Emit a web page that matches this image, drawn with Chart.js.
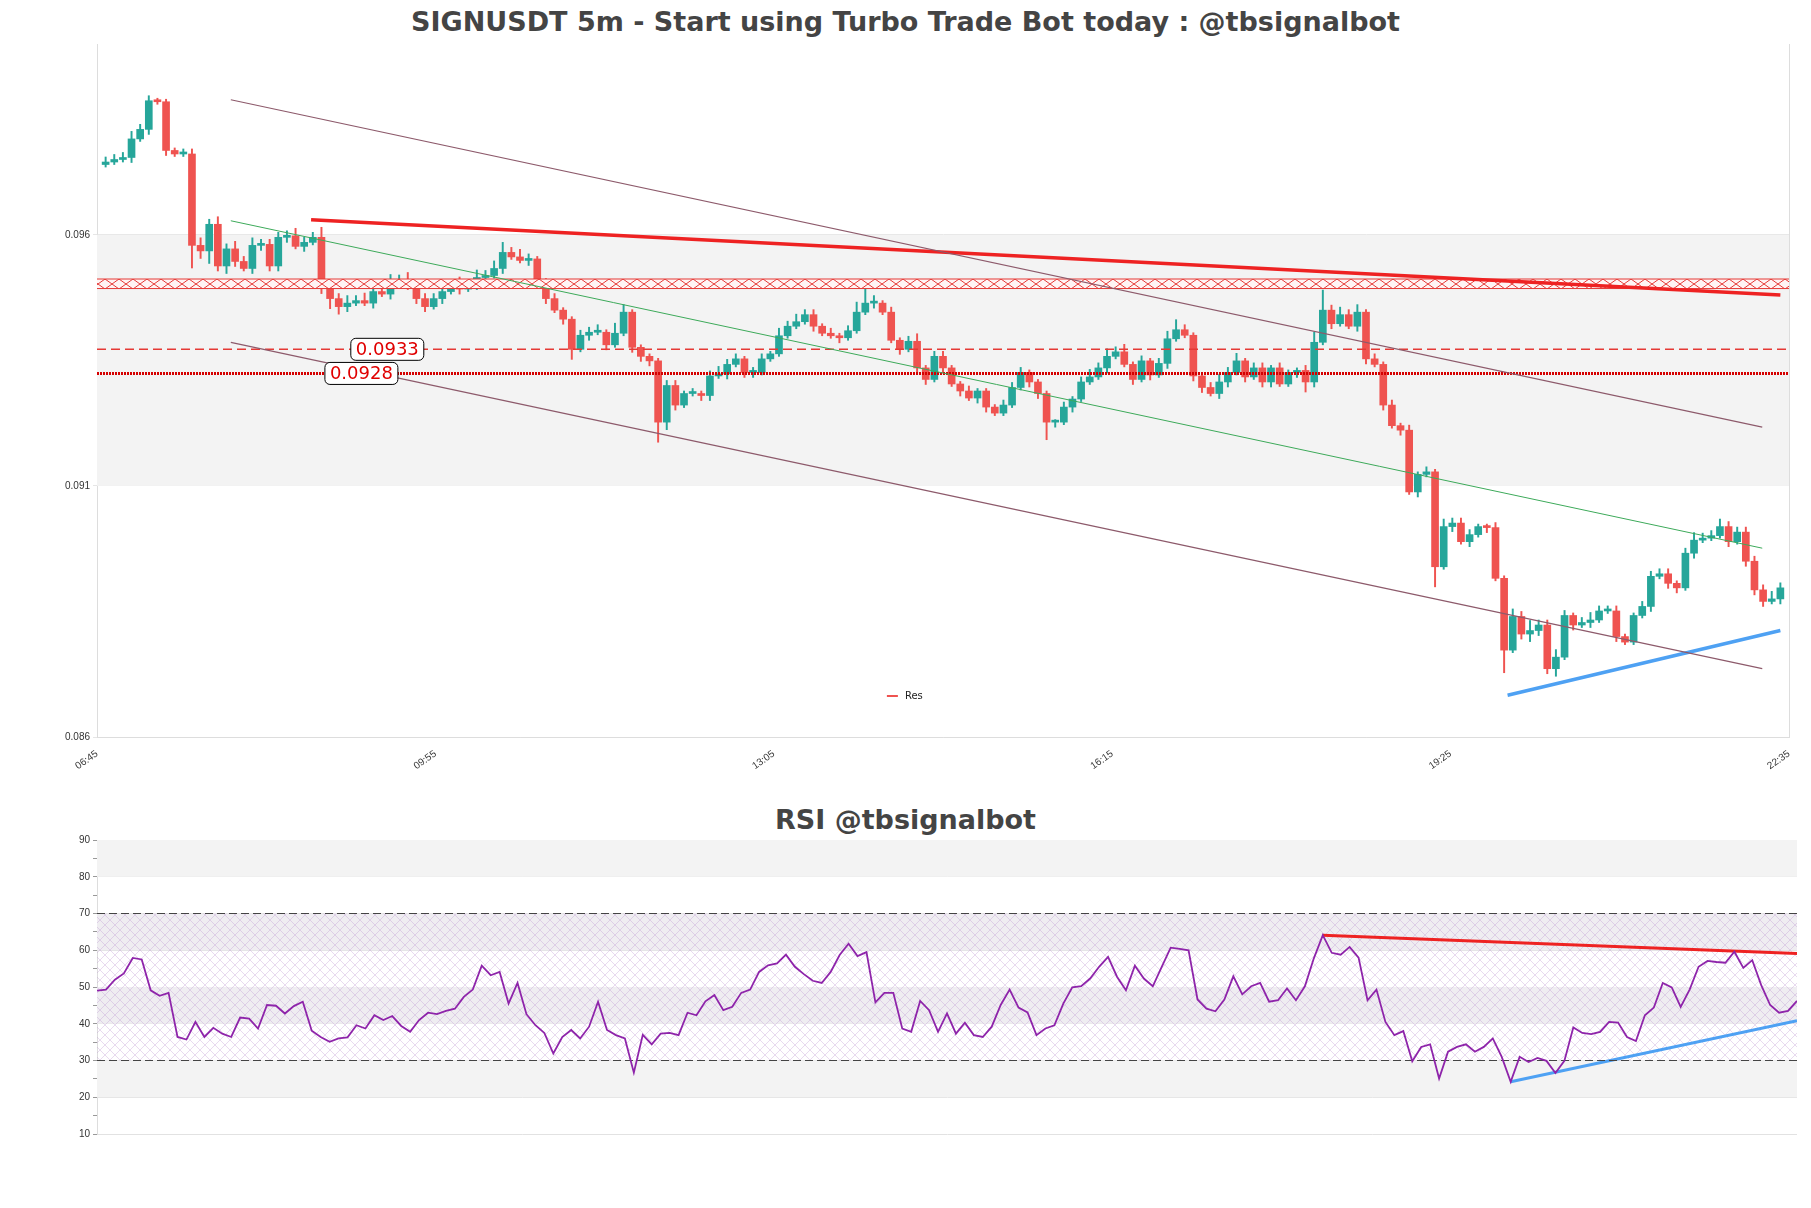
<!DOCTYPE html>
<html>
<head>
<meta charset="utf-8">
<script src="https://cdn.jsdelivr.net/npm/chart.js@4.4.1/dist/chart.umd.min.js"></script>
<style>
  body { margin: 0; background: #fff; width: 1811px; height: 1208px; position: relative; font-family: "DejaVu Sans", sans-serif; overflow: hidden; }
  .title { position: absolute; left: 0; width: 1811px; text-align: center; font-weight: bold; font-size: 27px; color: #444; }
  canvas { position: absolute; left: 0; }
</style>
</head>
<body>
<div class="title" style="top:6px">SIGNUSDT 5m - Start using Turbo Trade Bot today : @tbsignalbot</div>
<div class="title" style="top:804px">RSI @tbsignalbot</div>
<div style="position:absolute;top:34px;width:1811px;height:760px"><canvas id="main"></canvas></div>
<div style="position:absolute;top:830px;width:1811px;height:320px"><canvas id="rsi"></canvas></div>
<script>
// time labels on the x axis
const timeLabels = ['06:45', '09:55', '13:05', '16:15', '19:25', '22:35'];

// candle closes (price x 1e-4), one per 5m candle
const closes = [
  974.5, 975.0, 975.4, 979.1, 981.0, 986.7, 986.5, 976.8, 976.1, 976.1,
  957.9, 956.8, 962.1, 953.8, 957.2, 954.7, 953.3, 957.9, 958.1, 953.8,
  959.5, 959.8, 957.7, 958.5, 959.5, 950.3, 947.3, 945.7, 946.4, 946.9,
  946.4, 948.7, 948.2, 950.1, 951.0, 949.6, 947.3, 945.7, 947.3, 948.7,
  950.1, 949.2, 949.6, 951.5, 951.9, 953.3, 956.5, 955.6, 954.9, 955.2,
  950.3, 947.3, 945.0, 943.2, 937.2, 940.0, 940.6, 940.6, 938.1, 940.4,
  944.6, 937.6, 935.8, 934.9, 922.7, 930.0, 926.1, 928.4, 928.4, 928.0,
  931.9, 932.3, 934.2, 935.3, 932.6, 932.6, 935.3, 936.3, 939.9, 941.8,
  942.7, 944.1, 941.8, 940.4, 939.9, 939.5, 940.9, 944.6, 946.4, 946.4,
  944.6, 939.0, 937.2, 938.8, 933.5, 931.2, 935.8, 933.5, 930.3, 928.9,
  927.5, 928.9, 925.7, 924.5, 926.1, 929.6, 932.6, 930.7, 928.4, 922.7,
  922.7, 925.7, 927.3, 930.7, 931.7, 933.5, 935.8, 936.7, 934.2, 931.2,
  934.9, 932.1, 934.4, 939.3, 941.1, 940.0, 931.9, 929.6, 928.4, 930.7,
  932.6, 934.9, 931.7, 933.5, 930.7, 933.5, 930.3, 932.6, 933.0, 930.7,
  938.6, 945.0, 942.3, 944.1, 941.8, 944.6, 935.3, 934.2, 926.1, 922.0,
  921.1, 908.8, 912.3, 912.8, 893.9, 901.9, 902.6, 898.9, 900.3, 901.9,
  901.7, 891.6, 877.3, 884.0, 880.5, 881.2, 882.3, 873.6, 875.9, 884.2,
  882.3, 882.8, 883.3, 885.1, 885.1, 880.0, 878.9, 884.2, 886.0, 892.0,
  892.5, 890.6, 889.7, 896.6, 899.2, 899.6, 900.1, 901.9, 898.9, 900.8,
  895.0, 889.3, 887.0, 887.5, 889.7
];
const firstOpen = 974.0;
// wick lengths above / below the body (x 1e-4)
const wickUp = '2223221112 2323232322 2232241232 3324231222 2323234232 1221122314 3111122121 2322122132 3221212473 1212312211 2111222111 1212323231 2123421123 2312212112 4823231212 1212132221 1213242232 1232221122 2212322322 22232'.replace(/ /g, '').split('').map(Number);
const wickDown = '1112121211 9352321222 2212144321 1212112212 1211212112 2212412121 1222832112 2121221111 1121121112 1121221212 1221111227 2121112112 1212112212 2121221124 2121122121 2121812121 2191232231 2121121112 1221211121 22212'.replace(/ /g, '').split('').map(Number);

// RSI values
const rsiValues = [
  49.0, 49.3, 52.0, 53.7, 57.9, 57.5, 49.1, 47.6, 48.4, 36.4, 35.7, 40.5, 36.4, 38.9, 37.3, 36.4,
  41.7, 41.4, 38.7, 45.1, 44.9, 42.8, 44.8, 46.0, 38.1, 36.4, 35.1, 36.0, 36.3, 39.6, 38.7, 42.3,
  41.0, 42.1, 39.4, 37.8, 41.0, 43.0, 42.6, 43.5, 44.1, 47.3, 49.3, 55.8, 53.2, 54.1, 45.5, 51.1,
  42.6, 39.6, 37.5, 31.9, 36.4, 38.3, 36.0, 39.2, 46.0, 38.3, 36.9, 36.0, 26.7, 37.0, 34.4, 37.3,
  37.5, 36.9, 43.0, 42.3, 46.1, 47.8, 43.7, 44.6, 48.4, 49.3, 54.1, 55.9, 56.4, 58.8, 55.5, 53.5,
  51.7, 51.1, 54.1, 58.7, 61.8, 58.4, 59.5, 45.8, 48.4, 48.4, 38.7, 37.8, 46.2, 43.7, 37.8, 42.8,
  37.3, 40.3, 36.9, 36.4, 39.2, 45.1, 49.3, 44.4, 43.1, 36.9, 38.7, 39.6, 45.5, 49.9, 50.2, 52.3,
  55.5, 58.2, 52.8, 49.1, 55.8, 52.3, 50.2, 55.5, 60.7, 60.4, 60.0, 46.6, 44.1, 43.4, 46.6, 52.9,
  48.0, 50.2, 51.1, 46.0, 46.4, 49.6, 46.4, 50.2, 57.8, 64.1, 59.3, 58.8, 60.9, 58.0, 46.4, 49.3,
  40.5, 36.9, 38.0, 29.8, 33.7, 34.4, 25.1, 32.4, 33.7, 34.4, 32.4, 33.7, 36.0, 31.0, 24.2, 31.0,
  29.6, 30.7, 29.9, 26.6, 29.9, 39.0, 37.5, 37.2, 37.8, 40.5, 40.3, 36.4, 35.3, 42.3, 44.4, 51.1,
  49.9, 44.6, 49.3, 55.5, 57.1, 56.8, 56.6, 59.6, 55.2, 57.3, 50.5, 45.1, 43.0, 43.5, 46.2
];
const rsiLast = rsiValues.length - 1;

// trend lines: [x1, y1, x2, y2]
const resistanceLine = [24.8, 963.0, 195, 948.0];
const channelTop = [15.5, 986.9, 192.9, 921.7];
const channelMid = [15.5, 962.8, 192.9, 897.6];
const channelBottom = [15.5, 938.6, 192.9, 873.6];
const supportLine = [163.4, 868.3, 195, 881.2];
const resBand = [949.3, 951.2];
const levels = [{ y: 937.2, label: '0.0933', lx: 29.4, dash: [9, 5] }, { y: 932.4, label: '0.0928', lx: 26.4, dash: [2, 1] }];
const rsiHigh = [137, 64.1, rsiLast, 59.1];
const rsiLow = [158, 24.2, rsiLast, 40.8];

const GREEN = '#26a69a', RED = '#ef5350';
const S = 10000;

const bodies = [], wicks = [], colors = [];
closes.forEach((c, i) => {
  const o = i === 0 ? firstOpen : closes[i - 1];
  const hi = Math.max(o, c) + wickUp[i] * 0.5, lo = Math.min(o, c) - wickDown[i] * 0.5;
  bodies.push({ x: i + 1, y: [o / S, c / S] });
  wicks.push({ x: i + 1, y: [lo / S, hi / S] });
  colors.push(c >= o ? GREEN : RED);
});

function seg(l, scale) { return [{ x: l[0], y: l[1] / scale }, { x: l[2], y: l[3] / scale }]; }

// crossed pattern for the Res band
const pc = document.createElement('canvas');
pc.width = 14; pc.height = 10;
const px = pc.getContext('2d');
px.fillStyle = '#fff4f4'; px.fillRect(0, 0, 14, 10);
px.strokeStyle = '#e53935'; px.lineWidth = 1;
px.beginPath(); px.moveTo(0, 0); px.lineTo(14, 10); px.moveTo(14, 0); px.lineTo(0, 10); px.stroke();
const crossPattern = document.createElement('canvas').getContext('2d').createPattern(pc, 'repeat');

const bandPlugin = {
  id: 'bands',
  beforeDatasetsDraw(chart, args, opts) {
    const { ctx, chartArea: a, scales: { y } } = chart;
    ctx.save();
    opts.bands.forEach(b => {
      const y1 = y.getPixelForValue(b[1]), y2 = y.getPixelForValue(b[0]);
      ctx.fillStyle = b[2];
      ctx.fillRect(a.left, y1, a.right - a.left, y2 - y1);
    });
    ctx.restore();
  }
};

const labelPlugin = {
  id: 'levelLabels',
  afterDatasetsDraw(chart) {
    const { ctx, scales: { x, y }, chartArea: a } = chart;
    ctx.save();
    ctx.font = '18px "DejaVu Sans"';
    levels.forEach(l => {
      const px = x.getPixelForValue(l.lx), py = y.getPixelForValue(l.y / S);
      const w = ctx.measureText(l.label).width + 10;
      ctx.fillStyle = '#fff'; ctx.strokeStyle = '#000'; ctx.lineWidth = 1;
      ctx.beginPath(); ctx.roundRect(px, py - 11, w, 22, 5); ctx.fill(); ctx.stroke();
      ctx.fillStyle = '#e00000'; ctx.textBaseline = 'middle';
      ctx.fillText(l.label, px + 5, py + 1);
    });
    // legend
    const lx = x.getPixelForValue(91.5), ly = a.bottom - 41;
    ctx.strokeStyle = RED; ctx.lineWidth = 2;
    ctx.beginPath(); ctx.moveTo(lx, ly); ctx.lineTo(lx + 11, ly); ctx.stroke();
    ctx.fillStyle = '#222'; ctx.font = '10px "DejaVu Sans"'; ctx.textBaseline = 'middle';
    ctx.fillText('Res', lx + 18, ly);
    ctx.restore();
  }
};

const lineDs = (data, color, width, dash) => ({ type: 'line', data, borderColor: color, borderWidth: width, borderDash: dash || [], pointRadius: 0, fill: false });

new Chart(document.getElementById('main'), {
  type: 'bar',
  data: {
    datasets: [
      { data: wicks, backgroundColor: colors, barThickness: 1.3, grouped: false, order: 3 },
      { data: bodies, backgroundColor: colors, barThickness: 7, minBarLength: 2, grouped: false, order: 2 },
      { type: 'line', data: [{ x: 0, y: resBand[0] / S }, { x: 196, y: resBand[0] / S }], borderColor: '#e53935', borderWidth: 1, pointRadius: 0, fill: false, order: 1 },
      { type: 'line', data: [{ x: 0, y: resBand[1] / S }, { x: 196, y: resBand[1] / S }], borderColor: '#e53935', borderWidth: 1, pointRadius: 0, fill: '-1', backgroundColor: crossPattern, order: 1 },
      Object.assign(lineDs([{ x: 0, y: levels[0].y / S }, { x: 196, y: levels[0].y / S }], '#e53935', 1.5, levels[0].dash), { order: 1 }),
      Object.assign(lineDs([{ x: 0, y: levels[1].y / S }, { x: 196, y: levels[1].y / S }], '#d50000', 3, levels[1].dash), { order: 1 }),
      Object.assign(lineDs(seg(channelTop, S), '#8d5a6b', 1.2), { order: 0 }),
      Object.assign(lineDs(seg(channelBottom, S), '#8d5a6b', 1.2), { order: 0 }),
      Object.assign(lineDs(seg(channelMid, S), '#3daa5a', 1), { order: 0 }),
      Object.assign(lineDs(seg(resistanceLine, S), '#ee2222', 3.5), { order: 0 }),
      Object.assign(lineDs(seg(supportLine, S), '#4ea1f3', 3.5), { order: 0 })
    ]
  },
  options: {
    responsive: true, maintainAspectRatio: false, animation: false,
    layout: { padding: { top: 10, right: 14 } },
    plugins: { legend: { display: false }, tooltip: { enabled: false }, bands: { bands: [[0.091, 0.096, '#f3f3f3']] } },
    scales: {
      x: {
        type: 'linear', min: 0, max: 196, offset: false,
        afterBuildTicks: s => { s.ticks = timeLabels.map((t, i) => ({ value: i * 39.2 })); },
        afterFit: s => { s.height = 57; },
        ticks: { callback: (v, i) => timeLabels[i], maxRotation: 35, minRotation: 35, font: { size: 10 }, color: '#333', autoSkip: false },
        grid: { display: false },
        border: { color: '#ddd' }
      },
      y: {
        min: 0.086, max: 0.0998,
        afterBuildTicks: s => { s.ticks = [0.086, 0.091, 0.096].map(v => ({ value: v })); },
        afterFit: s => { s.width = 97; },
        ticks: { callback: v => v.toFixed(3), font: { size: 10 }, color: '#333' },
        grid: { color: '#e6e6e6', tickLength: 4 },
        border: { color: '#ddd' }
      },
      y2: { position: 'right', display: true, ticks: { display: false }, grid: { display: false }, border: { color: '#ddd' } }
    }
  },
  plugins: [bandPlugin, labelPlugin]
});

// purple hatch for RSI middle zone
const hc = document.createElement('canvas');
hc.width = 10; hc.height = 10;
const hx = hc.getContext('2d');
hx.strokeStyle = 'rgba(190,150,210,0.35)'; hx.lineWidth = 1;
hx.beginPath(); hx.moveTo(0, 0); hx.lineTo(10, 10); hx.moveTo(10, 0); hx.lineTo(0, 10); hx.stroke();
const hatch = document.createElement('canvas').getContext('2d').createPattern(hc, 'repeat');

const hatchPlugin = {
  id: 'hatch',
  beforeDatasetsDraw(chart) {
    const { ctx, chartArea: a, scales: { y } } = chart;
    ctx.save();
    ctx.fillStyle = hatch;
    const y1 = y.getPixelForValue(70), y2 = y.getPixelForValue(30);
    ctx.fillRect(a.left, y1, a.right - a.left, y2 - y1);
    ctx.restore();
  }
};

new Chart(document.getElementById('rsi'), {
  type: 'line',
  data: {
    datasets: [
      { data: rsiValues.map((v, i) => ({ x: i, y: v })), borderColor: '#8e24aa', borderWidth: 1.8, pointRadius: 0, tension: 0 },
      lineDs([{ x: 0, y: 70 }, { x: rsiLast, y: 70 }], '#444', 1.2, [8, 4]),
      lineDs([{ x: 0, y: 30 }, { x: rsiLast, y: 30 }], '#444', 1.2, [8, 4]),
      lineDs(seg(rsiHigh, 1), '#ee2222', 3),
      lineDs(seg(rsiLow, 1), '#4ea1f3', 3)
    ]
  },
  options: {
    responsive: true, maintainAspectRatio: false, animation: false,
    layout: { padding: { top: 10, right: 14, bottom: 16 } },
    plugins: {
      legend: { display: false }, tooltip: { enabled: false },
      bands: { bands: [[80, 90, '#f3f3f3'], [60, 70, '#efedf1'], [40, 50, '#efedf1'], [20, 30, '#f3f3f3']] }
    },
    scales: {
      x: { type: 'linear', min: 0, max: rsiLast, display: false },
      y: {
        min: 10, max: 90,
        afterFit: s => { s.width = 97; },
        ticks: { stepSize: 5, autoSkip: false, callback: v => v % 10 === 0 ? v : '', font: { size: 10 }, color: '#333' },
        grid: { color: ctx => ctx.tick && ctx.tick.value % 10 === 0 ? '#e2e2e2' : 'rgba(0,0,0,0)', tickColor: '#999', tickLength: 4 },
        border: { color: '#ddd' }
      }
    }
  },
  plugins: [bandPlugin, hatchPlugin]
});
</script>
</body>
</html>
